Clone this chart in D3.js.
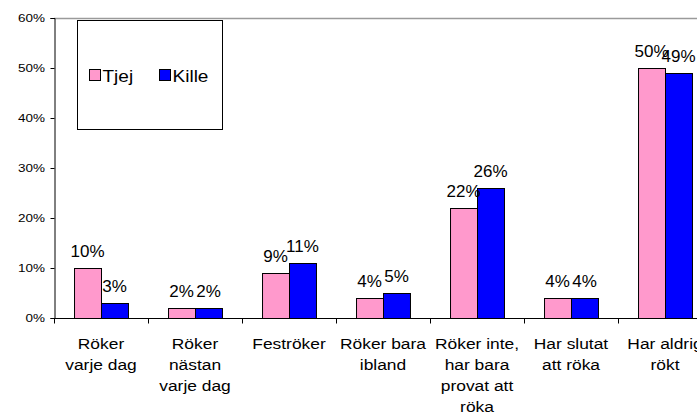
<!DOCTYPE html>
<html>
<head>
<meta charset="utf-8">
<script src="https://cdn.jsdelivr.net/npm/d3@7"></script>
<style>
  body { margin: 0; background: #fff; }
  svg { display: block; font-family: Arial, "Liberation Sans", sans-serif; }
</style>
</head>
<body>
<script>
var categories = ["Röker varje dag", "Röker nästan varje dag", "Feströker", "Röker bara ibland",
                  "Röker inte, har bara provat att röka", "Har slutat att röka", "Har aldrig rökt"];
// line breaks as in the picture
var categoryLines = [["Röker", "varje dag"], ["Röker", "nästan", "varje dag"], ["Feströker"],
                     ["Röker bara", "ibland"], ["Röker inte,", "har bara", "provat att", "röka"],
                     ["Har slutat", "att röka"], ["Har aldrig", "rökt"]];
var series = ["Tjej", "Kille"];
var tjej = [10, 2, 9, 4, 22, 4, 50];
var kille = [3, 2, 11, 5, 26, 4, 49];
var colors = ["#FF99CC", "#0000FF"];
var yTicks = [0, 10, 20, 30, 40, 50, 60];

var width = 697,
    height = 417;

var svg = d3.select("body").append("svg")
    .attr("width", width)
    .attr("height", height);

var plotLeft = 54, plotTop = 18, plotBottom = 318, band = 94;

var x = d3.scaleBand()
    .domain(categories)
    .range([plotLeft, plotLeft + band * categories.length])
    .padding(0);

var x1 = d3.scaleBand()
    .domain(series)
    .range([x.bandwidth() * 0.213, x.bandwidth() * 0.787]);

var y = d3.scaleLinear()
    .domain([0, 60])
    .range([plotBottom, plotTop]);

// top border of plot area
svg.append("line")
    .attr("x1", plotLeft).attr("x2", width)
    .attr("y1", plotTop + 0.5).attr("y2", plotTop + 0.5)
    .attr("stroke", "#9a9a9a").attr("stroke-width", 1.5);

// y axis (text is a bit wide in the picture, so stretch it)
var yAxis = svg.append("g")
    .attr("transform", "translate(" + (plotLeft + 0.5) + ",0)")
    .call(d3.axisLeft(y).tickValues(yTicks).tickSize(4).tickPadding(3)
        .tickFormat(function(d){ return d + "%"; }));
yAxis.selectAll("text")
    .attr("font-size", 10)
    .attr("font-family", "Arial, 'Liberation Sans', sans-serif")
    .attr("fill", "#000")
    .attr("transform", "scale(1.35,1)");
yAxis.selectAll("line,path").attr("stroke", "#000");

// bars
var data = categories.map(function(c, i){
  return { cat: c, values: [ { s: "Tjej", v: tjej[i] }, { s: "Kille", v: kille[i] } ] };
});

var groups = svg.selectAll("g.cat").data(data).enter().append("g")
    .attr("class", "cat")
    .attr("transform", function(d){ return "translate(" + x(d.cat) + ",0)"; });

groups.selectAll("rect").data(function(d){ return d.values; }).enter().append("rect")
    .attr("x", function(d){ return x1(d.s) + 0.5; })
    .attr("y", function(d){ return y(d.v) + 0.5; })
    .attr("width", x1.bandwidth())
    .attr("height", function(d){ return y(0) - y(d.v); })
    .attr("fill", function(d, i){ return colors[i]; })
    .attr("stroke", "#000")
    .attr("stroke-width", 1);

groups.selectAll("text.val").data(function(d){ return d.values; }).enter().append("text")
    .attr("class", "val")
    .attr("x", function(d){ return x1(d.s) + x1.bandwidth() / 2; })
    .attr("y", function(d){ return y(d.v) - 11; })
    .attr("text-anchor", "middle")
    .attr("font-size", 17)
    .text(function(d){ return d.v + "%"; });

// x axis, ticks between the categories
var xAxis = svg.append("g")
    .attr("transform", "translate(0," + (plotBottom + 0.5) + ")");
xAxis.append("line")
    .attr("x1", plotLeft).attr("x2", width)
    .attr("stroke", "#000");
xAxis.selectAll("line.tick").data(categories).enter().append("line")
    .attr("class", "tick")
    .attr("x1", function(d){ return x(d) + 0.5; })
    .attr("x2", function(d){ return x(d) + 0.5; })
    .attr("y1", 0).attr("y2", 5)
    .attr("stroke", "#000");

var labels = svg.selectAll("text.cat").data(categories).enter().append("text")
    .attr("class", "cat")
    .attr("text-anchor", "middle")
    .attr("font-size", 14.5)
    .attr("transform", function(d){ return "translate(" + (x(d) + x.bandwidth() / 2) + ",349) scale(1.2,1)"; });
labels.selectAll("tspan").data(function(d, i){ return categoryLines[i]; }).enter().append("tspan")
    .attr("x", 0)
    .attr("y", function(d, i){ return i * 21; })
    .text(function(d){ return d; });

// legend
var legend = svg.append("g");
legend.append("rect")
    .attr("x", 77.5).attr("y", 20.5)
    .attr("width", 145).attr("height", 109)
    .attr("fill", "#fff").attr("stroke", "#000");
var legX = [89.5, 159.5];
series.forEach(function(s, i){
  legend.append("rect")
      .attr("x", legX[i]).attr("y", 69.5)
      .attr("width", 11).attr("height", 11)
      .attr("fill", colors[i]).attr("stroke", "#000");
  legend.append("text")
      .attr("transform", "translate(" + (legX[i] + 13) + ",82) scale(1.12,1)")
      .attr("font-size", 17)
      .text(s);
});
</script>
</body>
</html>
